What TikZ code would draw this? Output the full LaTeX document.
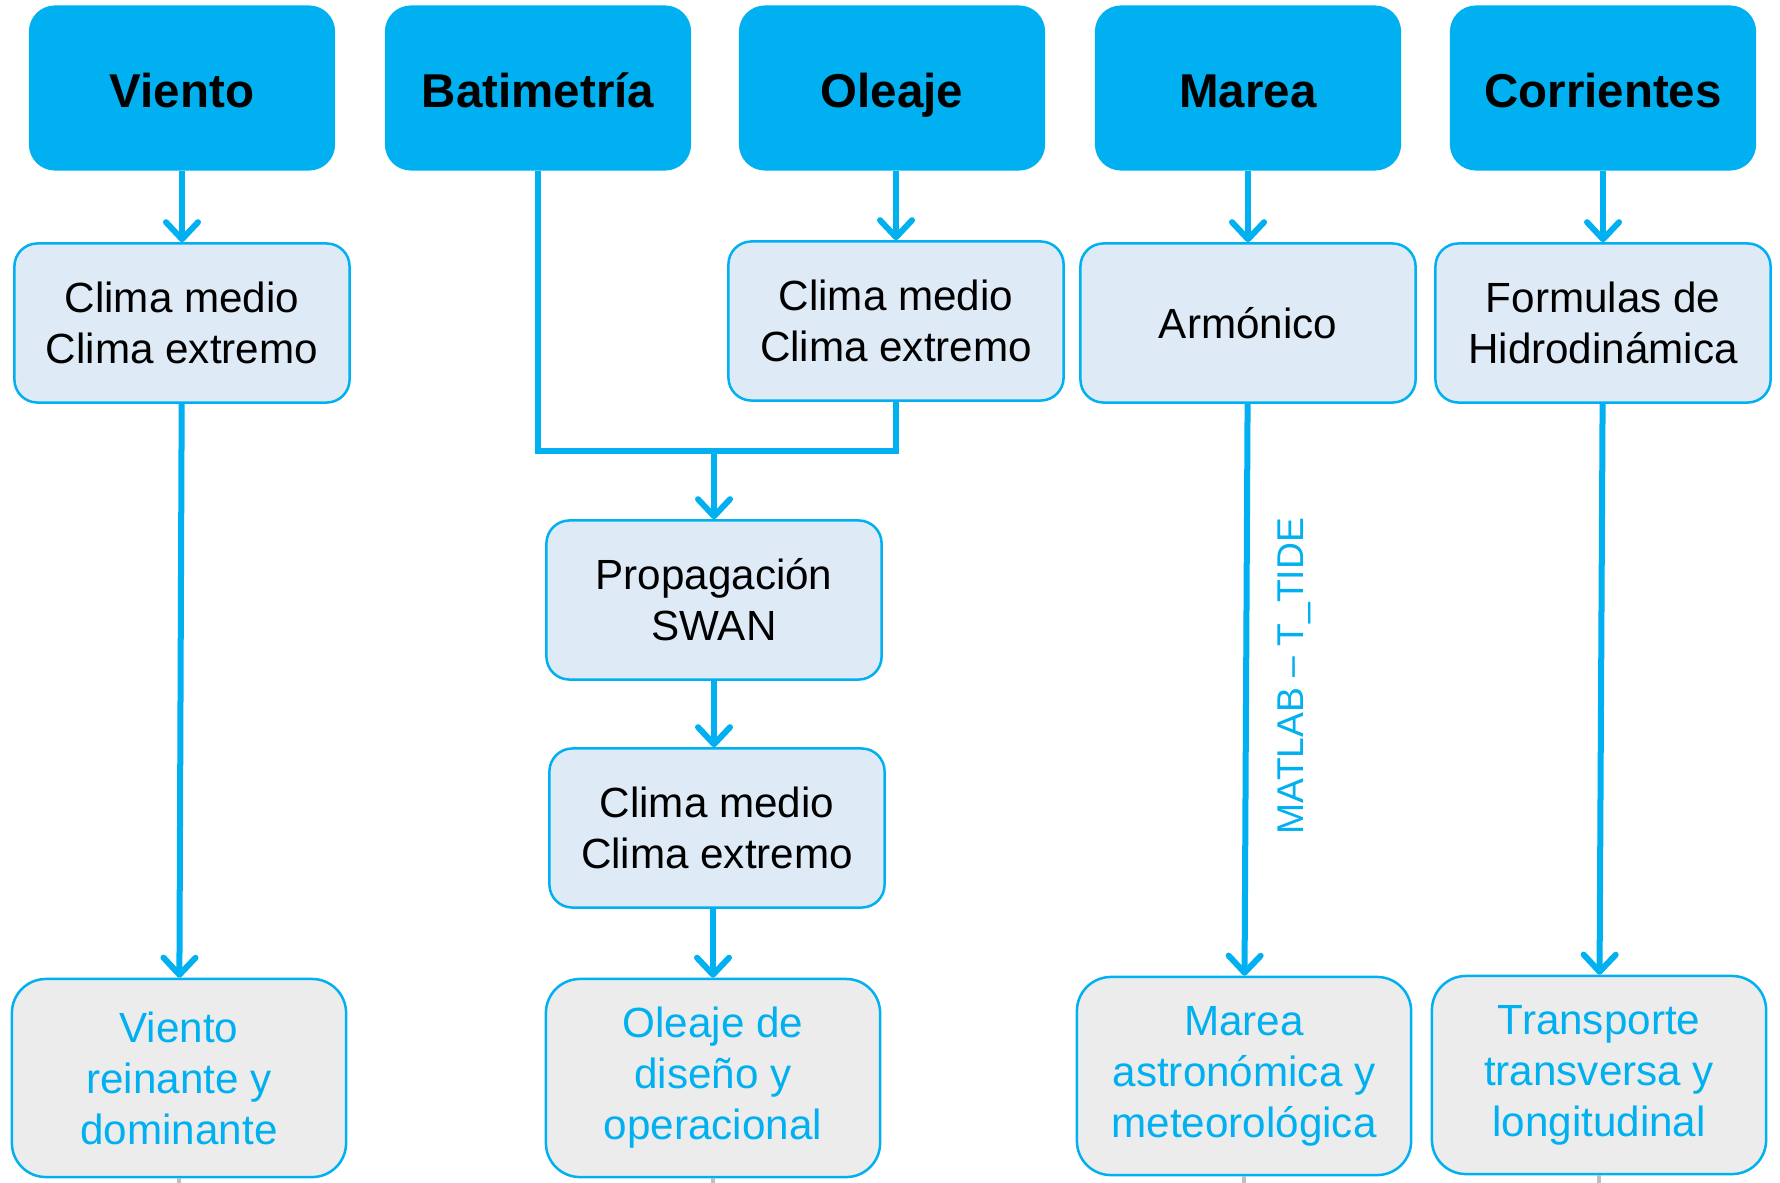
\documentclass[tikz,border=0pt]{standalone}
\usepackage{fontspec}
\setmainfont{Liberation Sans}
\usetikzlibrary{arrows.meta}
\tikzset{>={Straight Barb[length=1.7mm,width=3.2mm,round]}}
\definecolor{marinoblue}{RGB}{0,176,240}
\definecolor{marinobluearea}{RGB}{222,234,246}
\definecolor{marinogreyarea}{RGB}{236,236,236}
\definecolor{marinostub}{RGB}{191,191,191}
\tikzstyle{fuente}=[fill=marinoblue,rounded corners=2.6mm,minimum width=30.6mm,minimum height=16.5mm,text height=12pt,text depth=1pt,font=\fontsize{13.5}{16}\selectfont\bfseries]
\tikzstyle{proceso}=[draw=marinoblue,fill=marinobluearea,line width=0.25mm,rounded corners=2.3mm,minimum width=33.5mm,minimum height=15.9mm,align=center,font=\fontsize{12}{14.5}\selectfont]
\tikzstyle{resultado}=[draw=marinoblue,fill=marinogreyarea,line width=0.25mm,rounded corners=3.4mm,minimum width=33.4mm,minimum height=19.8mm,align=center,text=marinoblue,font=\fontsize{12}{14.5}\selectfont]
\tikzstyle{flecha}=[draw=marinoblue,line width=0.6mm]
\tikzstyle{etiqueta}=[text=marinoblue,font=\fontsize{10.6}{12}\selectfont]
\tikzstyle{corte}=[draw=marinostub,line width=0.35mm]

\begin{document}
\begin{tikzpicture}[x=0.01cm,y=-0.01cm]
    \useasboundingbox (0,0) rectangle (1780,1182);

    % datos de partida
    \node[fuente] (viento) at (182,88) {Viento};
    \node[fuente] (batimetria) at (538,88) {Batimetría};
    \node[fuente] (oleaje) at (892,88) {Oleaje};
    \node[fuente] (marea) at (1248,88) {Marea};
    \node[fuente] (corrientes) at (1603,88) {Corrientes};

    % procesos
    \node[proceso] (climaV) at (182,323) {Clima medio\\Clima extremo};
    \node[proceso] (climaO) at (896,321) {Clima medio\\Clima extremo};
    \node[proceso] (armonico) at (1248,323) {Armónico};
    \node[proceso] (formulas) at (1603,323) {Formulas de\\Hidrodinámica};
    \node[proceso] (swan) at (714,600) {Propagación\\SWAN};
    \node[proceso] (climaS) at (717,828) {Clima medio\\Clima extremo};

    % resultados
    \node[resultado] (vientoR) at (179,1078) {Viento\\reinante y\\dominante};
    \node[resultado] (oleajeR) at (713,1078) {Oleaje de\\diseño y\\operacional};
    \node[resultado] (mareaR) at (1244,1076) {Marea\\astronómica y\\meteorológica};
    \node[resultado] (transporteR) at (1599,1075) {Transporte\\transversa y\\longitudinal};

    \draw[flecha,->] (viento) -- (climaV);
    \draw[flecha,->] (climaV) -- (vientoR);

    \coordinate (junta) at (714,451);
    \draw[flecha,->] (climaO |- oleaje.south) -- (climaO);
    \draw[flecha] (batimetria) |- (junta) -| (climaO);
    \draw[flecha,->] (junta) -- (swan);
    \draw[flecha,->] (swan) -- (climaS.north -| swan);
    \draw[flecha,->] (climaS.south -| oleajeR) -- (oleajeR);

    \draw[flecha,->] (marea) -- (armonico);
    \draw[flecha,->] (armonico) -- (mareaR);
    \node[etiqueta,rotate=90] (tide) at (1294,676) {MATLAB -- T\_TIDE};

    \draw[flecha,->] (corrientes) -- (formulas);
    \draw[flecha,->] (formulas) -- (transporteR);

    % trazos cortados abajo
    \draw[corte] (vientoR.south) -- ++(0,10);
    \draw[corte] (oleajeR.south) -- ++(0,10);
    \draw[corte] (mareaR.south) -- ++(0,10);
    \draw[corte] (transporteR.south) -- ++(0,10);
\end{tikzpicture}
\end{document}
